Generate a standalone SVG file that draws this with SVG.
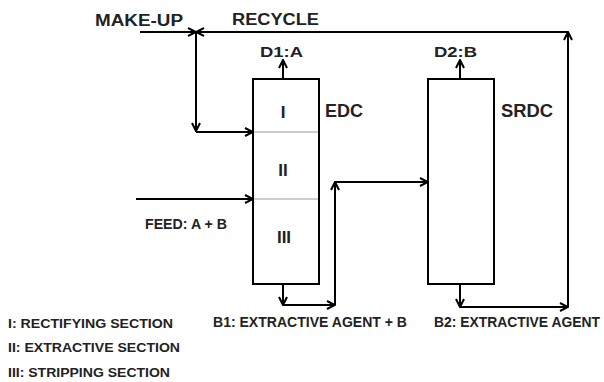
<svg xmlns="http://www.w3.org/2000/svg" width="604" height="382" viewBox="0 0 604 382">
<style>
.t{font-family:"Liberation Sans",Arial,sans-serif;font-weight:bold;fill:#222}
.ln{fill:none;stroke:#000;stroke-width:2}
.col{fill:#fff;stroke:#000;stroke-width:2}
.div{stroke:#999;stroke-width:1}
</style>
<defs>
<marker id="ah" viewBox="0 0 10 10" refX="9" refY="5" markerWidth="10" markerHeight="10" markerUnits="userSpaceOnUse" orient="auto">
<path d="M1,1 L9,5 L1,9" fill="none" stroke="#000" stroke-width="2"/>
</marker>
</defs>
<rect width="604" height="382" fill="#fff"/>
<g id="connectors">
<line class="ln" x1="140" y1="32" x2="196" y2="32" marker-end="url(#ah)"/>
<line class="ln" x1="568" y1="32" x2="196" y2="32" marker-end="url(#ah)"/>
<line class="ln" x1="196" y1="32" x2="196" y2="131" marker-end="url(#ah)"/>
<line class="ln" x1="196" y1="132" x2="253" y2="132" marker-end="url(#ah)"/>
<line class="ln" x1="136" y1="199" x2="253" y2="199" marker-end="url(#ah)"/>
<line class="ln" x1="283" y1="79" x2="283" y2="60" marker-end="url(#ah)"/>
<line class="ln" x1="460" y1="79" x2="460" y2="60" marker-end="url(#ah)"/>
<line class="ln" x1="283" y1="284" x2="283" y2="305" marker-end="url(#ah)"/>
<line class="ln" x1="283" y1="305" x2="335" y2="305" marker-end="url(#ah)"/>
<line class="ln" x1="335" y1="305" x2="335" y2="182" marker-end="url(#ah)"/>
<line class="ln" x1="335" y1="182" x2="428" y2="182" marker-end="url(#ah)"/>
<line class="ln" x1="460" y1="284" x2="460" y2="307" marker-end="url(#ah)"/>
<line class="ln" x1="460" y1="307" x2="568" y2="307" marker-end="url(#ah)"/>
<line class="ln" x1="568" y1="307" x2="568" y2="32" marker-end="url(#ah)"/>
</g>
<g id="edc">
<rect class="col" x="253" y="79" width="66" height="205"/>
<line class="div" x1="254" y1="132" x2="318" y2="132"/>
<line class="div" x1="254" y1="199" x2="318" y2="199"/>
<text class="t" x="283" y="118" font-size="17" text-anchor="middle">I</text>
<text class="t" x="283" y="176" font-size="17" text-anchor="middle">II</text>
<text class="t" x="284" y="243" font-size="17" text-anchor="middle">III</text>
<text class="t" x="325" y="117" font-size="18" textLength="38" lengthAdjust="spacingAndGlyphs">EDC</text>
</g>
<g id="srdc">
<rect class="col" x="428" y="79" width="66" height="205"/>
<text class="t" x="501" y="117" font-size="18" textLength="52" lengthAdjust="spacingAndGlyphs">SRDC</text>
</g>
<g id="labels">
<text class="t" x="95" y="26" font-size="16" textLength="88" lengthAdjust="spacingAndGlyphs">MAKE-UP</text>
<text class="t" x="232" y="25" font-size="16" textLength="87" lengthAdjust="spacingAndGlyphs">RECYCLE</text>
<text class="t" x="260" y="57" font-size="14" textLength="43" lengthAdjust="spacingAndGlyphs">D1:A</text>
<text class="t" x="434" y="57" font-size="14" textLength="43" lengthAdjust="spacingAndGlyphs">D2:B</text>
<text class="t" x="145" y="229" font-size="14" textLength="82" lengthAdjust="spacingAndGlyphs">FEED: A + B</text>
<text class="t" x="213" y="327" font-size="14" textLength="194" lengthAdjust="spacingAndGlyphs">B1: EXTRACTIVE AGENT + B</text>
<text class="t" x="434" y="327" font-size="14" textLength="166" lengthAdjust="spacingAndGlyphs">B2: EXTRACTIVE AGENT</text>
<text class="t" x="8" y="328" font-size="13" textLength="165" lengthAdjust="spacingAndGlyphs">I: RECTIFYING SECTION</text>
<text class="t" x="8" y="352" font-size="13" textLength="172" lengthAdjust="spacingAndGlyphs">II: EXTRACTIVE SECTION</text>
<text class="t" x="8" y="377" font-size="13" textLength="162" lengthAdjust="spacingAndGlyphs">III: STRIPPING SECTION</text>
</g>
</svg>
